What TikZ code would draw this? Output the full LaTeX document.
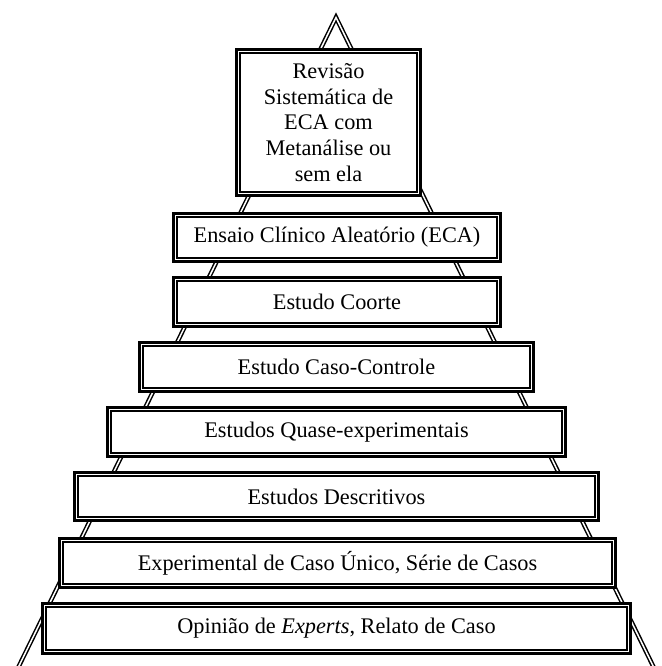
\documentclass[tikz,border=0pt]{standalone}
\usepackage{fontspec}
\setmainfont{Liberation Serif}

\begin{document}
\begin{tikzpicture}[x=1pt, y=-1pt,
	tier/.style={fill=white, draw, line width=1.3pt, preaction={draw, line width=10pt}, preaction={draw=white, line width=4.4pt}, minimum width=#1, minimum height=42pt, inner sep=0pt, align=center, font=\fontsize{22.3}{25.7}\selectfont},
	rim/.style={double, line width=1.5pt, double distance=1.5pt}]
	\useasboundingbox (0,0) rectangle (661,666);

	\coordinate (apex) at (336,17.5);
	\coordinate (baseL) at (16,672);
	\coordinate (baseR) at (656,672);
	\draw[rim] (baseL) -- (apex) -- (baseR);

	\node[tier=177pt, minimum height=139pt] (review) at (328.5,122.5) {Revisão\\Sistemática de\\ECA com\\Metanálise ou\\sem ela};
	\node[tier=320pt, minimum height=41pt] (rct) at (337,237.5) {Ensaio Clínico Aleatório (ECA)};
	\node[tier=320pt] (cohort) at (337,302) {Estudo Coorte};
	\node[tier=387pt] (casectrl) at (336.5,367) {Estudo Caso-Controle};
	\node[tier=451pt] (quasi) at (336.5,432) {Estudos Quase-experimentais};
	\node[tier=517pt, minimum height=41pt] (descr) at (336.5,496.5) {Estudos Descritivos};
	\node[tier=549pt] (series) at (337.5,563) {Experimental de Caso Único, Série de Casos};
	\node[tier=581pt, minimum height=43pt] (expert) at (336.5,628.5) {Opinião de \textit{Experts}, Relato de Caso};
\end{tikzpicture}
\end{document}
